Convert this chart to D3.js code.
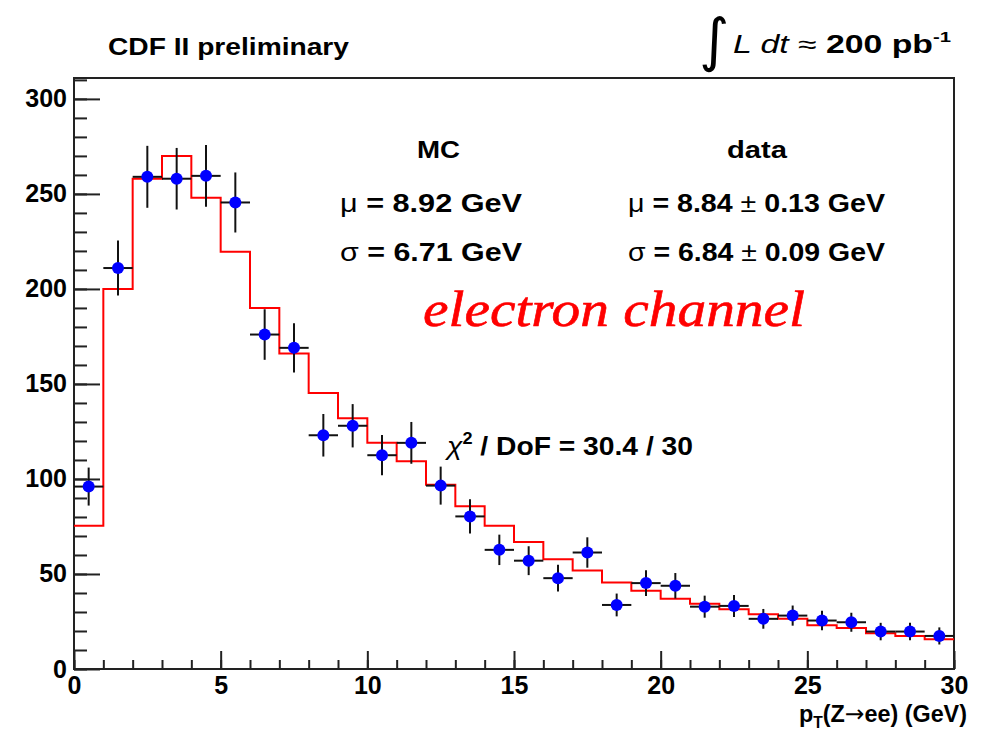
<!DOCTYPE html>
<html>
<head>
<meta charset="utf-8">
<script src="https://cdn.jsdelivr.net/npm/d3@7"></script>
<style>
  html, body { margin: 0; padding: 0; background: #fff; }
</style>
</head>
<body>
<svg id="chart" width="984" height="733" font-family="Liberation Sans, Arial, sans-serif"></svg>
<script>
// ---- data ----
const binEdges = [0,1,2,3,4,5,6,7,8,9,10,11,12,13,14,15,16,17,18,19,20,21,22,23,24,25,26,27,28,29,30];
const dataValues = [96, 211, 259, 258, 259.5, 245.5, 176, 169, 123, 128, 112.5, 119, 96.5, 80.3, 62.7, 57, 47.8, 61.3, 33.7, 45.2, 43.8, 32.8, 33.2, 26.4, 28.1, 25.5, 24.6, 19.7, 19.7, 17.4];
const dataErrors = [10, 14.5, 16.3, 16.2, 16.3, 15.8, 13.3, 13, 11.2, 11.4, 10.6, 11, 10, 9, 8, 7.6, 7, 8, 6, 6.8, 6.7, 5.8, 5.8, 5.2, 5.3, 5.1, 5, 4.6, 4.6, 4.5];
const mcValues = [75.4, 200, 258, 270, 248, 219.6, 190, 166, 145.3, 132, 119, 109.3, 97, 85.6, 75.4, 66.8, 57.8, 51.8, 45.5, 41.2, 37, 34.3, 31.5, 28.8, 26.5, 23, 21.6, 18.8, 17.4, 15.7];
const xMajorTicks = [0, 5, 10, 15, 20, 25, 30];
const xMinorTicks = [0,1,2,3,4,5,6,7,8,9,10,11,12,13,14,15,16,17,18,19,20,21,22,23,24,25,26,27,28,29,30];
const yMajorTicks = [0, 50, 100, 150, 200, 250, 300];
const yMinorTicks = [0,10,20,30,40,50,60,70,80,90,100,110,120,130,140,150,160,170,180,190,200,210,220,230,240,250,260,270,280,290,300,310];

const svg = d3.select("#chart");
const L = 74, R = 954, T = 78, B = 669;
const x = d3.scaleLinear().domain([0, 30]).range([L, R]);
const y = d3.scaleLinear().domain([0, 311]).range([B, T]);

// ---- axes ----
const xMinor = svg.append("g").attr("transform", `translate(0,${B})`)
  .call(d3.axisBottom(x).tickValues(xMinorTicks).tickSizeInner(-9).tickSizeOuter(0).tickFormat(""));
const xMajor = svg.append("g").attr("transform", `translate(0,${B})`)
  .call(d3.axisBottom(x).tickValues(xMajorTicks).tickSizeInner(-18).tickSizeOuter(0).tickPadding(7).tickFormat(d3.format("d")));
const yMinor = svg.append("g").attr("transform", `translate(${L},0)`)
  .call(d3.axisLeft(y).tickValues(yMinorTicks).tickSizeInner(-13).tickSizeOuter(0).tickFormat(""));
const yMajor = svg.append("g").attr("transform", `translate(${L},0)`)
  .call(d3.axisLeft(y).tickValues(yMajorTicks).tickSizeInner(-26).tickSizeOuter(0).tickPadding(7).tickFormat(d3.format("d")));
[xMinor, xMajor, yMinor, yMajor].forEach(g => {
  g.select(".domain").remove();
  g.selectAll(".tick line").attr("stroke", "#222").attr("stroke-width", 2);
  g.selectAll(".tick text").attr("fill", "#000").attr("font-size", 25).attr("font-weight", "bold")
    .attr("font-family", "Liberation Sans, Arial, sans-serif");
});

// frame
svg.append("rect").attr("x", L).attr("y", T).attr("width", R - L).attr("height", B - T)
  .attr("fill", "none").attr("stroke", "#222").attr("stroke-width", 2);

// ---- MC histogram (red step) ----
const stepPts = mcValues.map((v, i) => [binEdges[i], v]);
stepPts.push([binEdges[30], mcValues[29]]);
svg.append("path")
  .attr("d", d3.line().x(d => x(d[0])).y(d => y(d[1])).curve(d3.curveStepAfter)(stepPts))
  .attr("fill", "none").attr("stroke", "#ff0000").attr("stroke-width", 2);

// ---- data points with error bars ----
const pts = dataValues.map((v, i) => ({ lo: binEdges[i], hi: binEdges[i + 1], c: (binEdges[i] + binEdges[i + 1]) / 2, v, e: dataErrors[i] }));
const gp = svg.append("g");
gp.selectAll("line.h").data(pts).join("line").attr("class", "h")
  .attr("x1", d => x(d.lo)).attr("x2", d => x(d.hi))
  .attr("y1", d => y(d.v)).attr("y2", d => y(d.v))
  .attr("stroke", "#111").attr("stroke-width", 2);
gp.selectAll("line.v").data(pts).join("line").attr("class", "v")
  .attr("x1", d => x(d.c)).attr("x2", d => x(d.c))
  .attr("y1", d => y(d.v - d.e)).attr("y2", d => y(d.v + d.e))
  .attr("stroke", "#111").attr("stroke-width", 2);
gp.selectAll("circle").data(pts).join("circle")
  .attr("cx", d => x(d.c)).attr("cy", d => y(d.v)).attr("r", 6)
  .attr("fill", "#0000ff");

// ---- texts ----
function txt(xp, yp, size, weight, fill) {
  return svg.append("text").attr("x", xp).attr("y", yp).attr("font-size", size)
    .attr("font-weight", weight || "bold").attr("fill", fill || "#000")
    .style("font-family", "'Liberation Sans', Arial, sans-serif");
}
txt(108, 55, 24).text("CDF II preliminary").attr("textLength", 241).attr("lengthAdjust", "spacingAndGlyphs");

// integral luminosity
svg.append("text").attr("x", 699).attr("y", 60).attr("font-size", 58)
  .style("font-family", "'DejaVu Sans'").attr("fill", "#000").text("∫");
const lum = txt(733, 53, 25, "normal");
lum.append("tspan").attr("font-style", "italic").text("L dt ");
lum.append("tspan").text("≈ ");
lum.append("tspan").attr("font-weight", "bold").text("200 pb");
lum.append("tspan").attr("font-weight", "bold").attr("font-size", 15).attr("dy", -11).text("-1");
lum.attr("textLength", 218).attr("lengthAdjust", "spacingAndGlyphs");

// stats legend
txt(417, 158, 24).text("MC").attr("textLength", 43).attr("lengthAdjust", "spacingAndGlyphs");
txt(727, 158, 24).text("data").attr("textLength", 60).attr("lengthAdjust", "spacingAndGlyphs");
function stat(xp, yp, sym, rest, len) {
  const t = txt(xp, yp, 25, "bold");
  t.append("tspan").attr("font-weight", "normal").text(sym);
  t.append("tspan").text(rest);
  t.attr("textLength", len).attr("lengthAdjust", "spacingAndGlyphs");
  return t;
}
stat(340, 212, "μ", " = 8.92 GeV", 182);
stat(340, 261, "σ", " = 6.71 GeV", 182);
const md = txt(628, 212, 25, "bold");
md.append("tspan").attr("font-weight", "normal").text("μ");
md.append("tspan").text(" = 8.84 ");
md.append("tspan").attr("font-weight", "normal").text("±");
md.append("tspan").text(" 0.13 GeV");
md.attr("textLength", 257).attr("lengthAdjust", "spacingAndGlyphs");
const sd = txt(628, 261, 25, "bold");
sd.append("tspan").attr("font-weight", "normal").text("σ");
sd.append("tspan").text(" = 6.84 ");
sd.append("tspan").attr("font-weight", "normal").text("±");
sd.append("tspan").text(" 0.09 GeV");
sd.attr("textLength", 257).attr("lengthAdjust", "spacingAndGlyphs");

// electron channel
svg.append("text").attr("x", 423).attr("y", 326).attr("font-size", 50)
  .style("font-family", "'Liberation Serif', serif").attr("font-style", "italic").attr("fill", "#ff0000")
  .attr("stroke", "#ff0000").attr("stroke-width", 0.6)
  .attr("textLength", 382).attr("lengthAdjust", "spacingAndGlyphs").text("electron channel");

// chi2
const chi = txt(447, 455, 25, "bold");
chi.append("tspan").attr("font-weight", "normal").attr("font-style", "italic").text("χ");
chi.append("tspan").attr("font-size", 16).attr("dy", -11).text("2");
chi.append("tspan").attr("dy", 11).text(" / DoF = 30.4 / 30");
chi.attr("textLength", 246).attr("lengthAdjust", "spacingAndGlyphs");

// x-axis label
const xl = txt(799, 722, 24, "bold");
xl.append("tspan").text("p");
xl.append("tspan").attr("font-size", 16).attr("dy", 6).text("T");
xl.append("tspan").attr("dy", -6).text("(Z");
xl.append("tspan").style("font-family", "'DejaVu Sans'").attr("font-weight", "normal").text("→");
xl.append("tspan").text("ee) (GeV)");
xl.attr("textLength", 168).attr("lengthAdjust", "spacingAndGlyphs");
</script>
</body>
</html>
